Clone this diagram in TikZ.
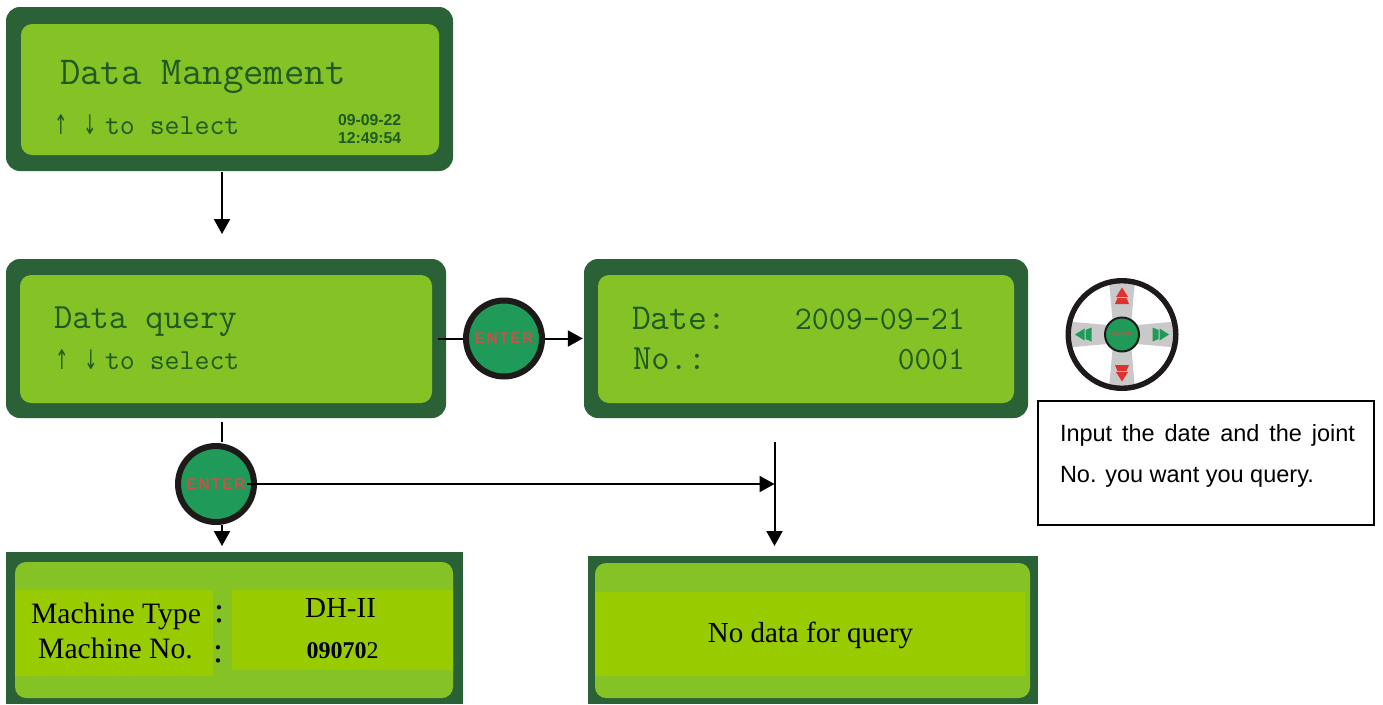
\documentclass[tikz,border=0pt]{standalone}
\usepackage{fontspec}
\setmainfont{Liberation Serif}
\newfontfamily\sansf{Liberation Sans}
\newfontfamily\entf[LetterSpace=10]{Liberation Sans}
\newfontfamily\arrf{DejaVu Sans}
\usetikzlibrary{arrows.meta,calc}
\definecolor{pdark}{HTML}{2A6136}
\definecolor{plight}{HTML}{85C226}
\definecolor{pband}{HTML}{99CC00}
\definecolor{lcdtext}{HTML}{1F5A22}
\definecolor{btnfill}{HTML}{1F9A58}
\definecolor{btntext}{HTML}{CF4E48}
\definecolor{ringc}{HTML}{1E1A1A}
\definecolor{spoke}{HTML}{C9C9C9}
\definecolor{wred}{HTML}{E0312F}
\newcommand{\fsz}[1]{\fontsize{#1}{#1}\selectfont}
\newcommand{\lcd}[1]{\ttfamily\fsz{#1}\color{lcdtext}}
\newcommand{\uparr}{\scalebox{0.6}[1]{\arrf\fsz{27}↑}}
\newcommand{\downarr}{\scalebox{0.6}[1]{\arrf\fsz{27}↓}}
\tikzset{
  outerround/.style={rectangle,rounded corners=14pt,fill=pdark,inner sep=0pt},
  innerround/.style={rectangle,rounded corners=11pt,fill=plight,inner sep=0pt},
  outersharp/.style={rectangle,fill=pdark,inner sep=0pt},
  bandbox/.style={rectangle,fill=pband,inner sep=0pt},
  lab/.style={anchor=base west,inner sep=0pt,outer sep=0pt},
  labc/.style={anchor=base,inner sep=0pt,outer sep=0pt},
  enterbtn/.style={circle,fill=btnfill,draw=ringc,line width=6pt,minimum size=76pt,inner sep=0pt,
    font=\entf\bfseries\fsz{15.5},text=btntext},
  flow/.style={line width=2pt,draw=black},
  flowarr/.style={flow,-{Triangle[width=16pt,length=15pt]}},
}
\begin{document}
\begin{tikzpicture}[x=1pt,y=-1pt]
\useasboundingbox[fill=white] (0,0) rectangle (1383,704);

% panel 1
\node[outerround,minimum width=447pt,minimum height=164pt] (p1) at (229.5,89) {};
\node[innerround,minimum width=418pt,minimum height=131pt] (p1i) at (230,89.5) {};
\node[lab,font=\lcd{39.6}] (t1a) at (60,84) {Data Mangement};
\node[labc,text=lcdtext] (t1u) at (61,134) {\uparr};
\node[labc,text=lcdtext] (t1d) at (90,134) {\downarr};
\node[lab,font=\lcd{29}] (t1b) at (105,134) {to select};
\node[lab,font=\sansf\bfseries\fsz{15.8},text=lcdtext] (t1c) at (338,125) {09-09-22};
\node[lab,font=\sansf\bfseries\fsz{15.8},text=lcdtext] (t1e) at (338,143) {12:49:54};

% panel 2
\node[outerround,minimum width=440pt,minimum height=159pt] (p2) at (226,338.5) {};
\node[innerround,minimum width=412pt,minimum height=128pt] (p2i) at (226,339) {};
\node[lab,font=\lcd{35.5}] (t2a) at (54,328) {Data query};
\node[labc,text=lcdtext] (t2u) at (62,369) {\uparr};
\node[labc,text=lcdtext] (t2d) at (91,369) {\downarr};
\node[lab,font=\lcd{29}] (t2b) at (105,369) {to select};

% panel 3
\node[outerround,minimum width=444pt,minimum height=159pt] (p3) at (806,338.5) {};
\node[innerround,minimum width=416pt,minimum height=128pt] (p3i) at (806,339) {};
\node[lab,font=\lcd{36.5}] (t3a) at (632,329) {Date:};
\node[anchor=base east,inner sep=0pt,font=\lcd{33}] (t3b) at (965,329) {2009-09-21};
\node[lab,font=\lcd{35.5}] (t3c) at (633,369) {No.:};
\node[anchor=base east,inner sep=0pt,font=\lcd{32.5}] (t3d) at (965,369) {0001};

% panel 4
\node[outersharp,minimum width=457pt,minimum height=152pt] (p4) at (234.5,628) {};
\node[innerround,minimum width=438pt,minimum height=136pt] (p4i) at (234,630) {};
\node[bandbox,minimum width=198pt,minimum height=86pt] (p4l) at (114,633) {};
\node[bandbox,minimum width=221pt,minimum height=80pt] (p4r) at (342.5,630) {};
\node[labc,font=\fsz{29.6}] (t4a) at (116,623) {Machine Type};
\node[labc,font=\fsz{29.6}] (t4b) at (115.5,658) {Machine No.};
\node[labc,font=\fsz{36}] (t4c) at (219,622) {:};
\node[labc,font=\fsz{36}] (t4d) at (218,662) {:};
\node[labc,font=\fsz{29}] (t4e) at (340.5,617) {DH-II};
\node[labc,font=\fsz{24}] (t4f) at (342.5,658) {\textbf{09070}2};

% panel 5
\node[outersharp,minimum width=450pt,minimum height=148pt] (p5) at (813,630) {};
\node[innerround,minimum width=435pt,minimum height=135pt] (p5i) at (812.5,630.5) {};
\node[bandbox,minimum width=430pt,minimum height=84pt] (p5b) at (810,634) {};
\node[labc,font=\fsz{29}] (t5a) at (810.5,642) {No data for query};

% enter buttons
\node[enterbtn] (b1) at (504,338.5) {ENTER};
\node[enterbtn] (b2) at (216,484) {ENTER};

% connectors
\coordinate (c1) at (222,234);
\coordinate (c2) at (222,442);
\coordinate (c3) at (222,546);
\coordinate (c4) at (774.5,484);
\coordinate (c5) at (774.5,442);
\coordinate (c6) at (774.5,546);
\draw[flowarr] (c1 |- p1.south) ++(0,1) -- (c1);
\draw[flow] ([xshift=-8pt]p2.east) -- (b1.west);
\draw[flowarr] (b1.east) -- ([xshift=-1pt]p3.west);
\draw[flow] (c2 |- p2.south) ++(0,4) -- (c2);
\draw[flowarr] (c3 |- b2.south) -- (c3);
\draw[flowarr] ([xshift=-10pt]b2.east) -- (c4);
\draw[flowarr] (c5) -- (c6);

% wheel
\begin{scope}[shift={(1122,334.5)}]
  \foreach \a in {0,90,180,270}{
    \fill[spoke,rotate=\a] (-13,-54) -- (13,-54) -- (9.5,-15) -- (-9.5,-15) -- cycle;
  }
  \foreach \a/\c in {0/wred,180/wred,90/btnfill,270/btnfill}{
    \fill[\c,rotate=\a] (0,-47) -- (6,-37.5) -- (-6,-37.5) -- cycle;
    \fill[\c,rotate=\a] (-4.5,-36.5) -- (4.5,-36.5) -- (7,-30.5) -- (-7,-30.5) -- cycle;
  }
  \node[circle,draw=ringc,line width=5.4pt,minimum size=107.6pt,inner sep=0pt] (wheel) at (0,0) {};
  \node[circle,fill=btnfill,draw=ringc,line width=2pt,minimum size=34pt,inner sep=0pt,
        font=\sansf\bfseries\fsz{6},text=btntext!70!btnfill] (hub) at (0,0) {ENTER};
\end{scope}

% text box
\node[rectangle,draw=black,line width=1.4pt,minimum width=336pt,minimum height=124pt,inner sep=0pt] (box) at (1206,463) {};
\node[lab,font=\sansf\fsz{23.5}] (tb1) at (1060,441) {\makebox[295pt][s]{Input the date and the joint}};
\node[lab,font=\sansf\fsz{23.5}] (tb2) at (1060,482) {No. you want you query.};
\end{tikzpicture}
\end{document}
